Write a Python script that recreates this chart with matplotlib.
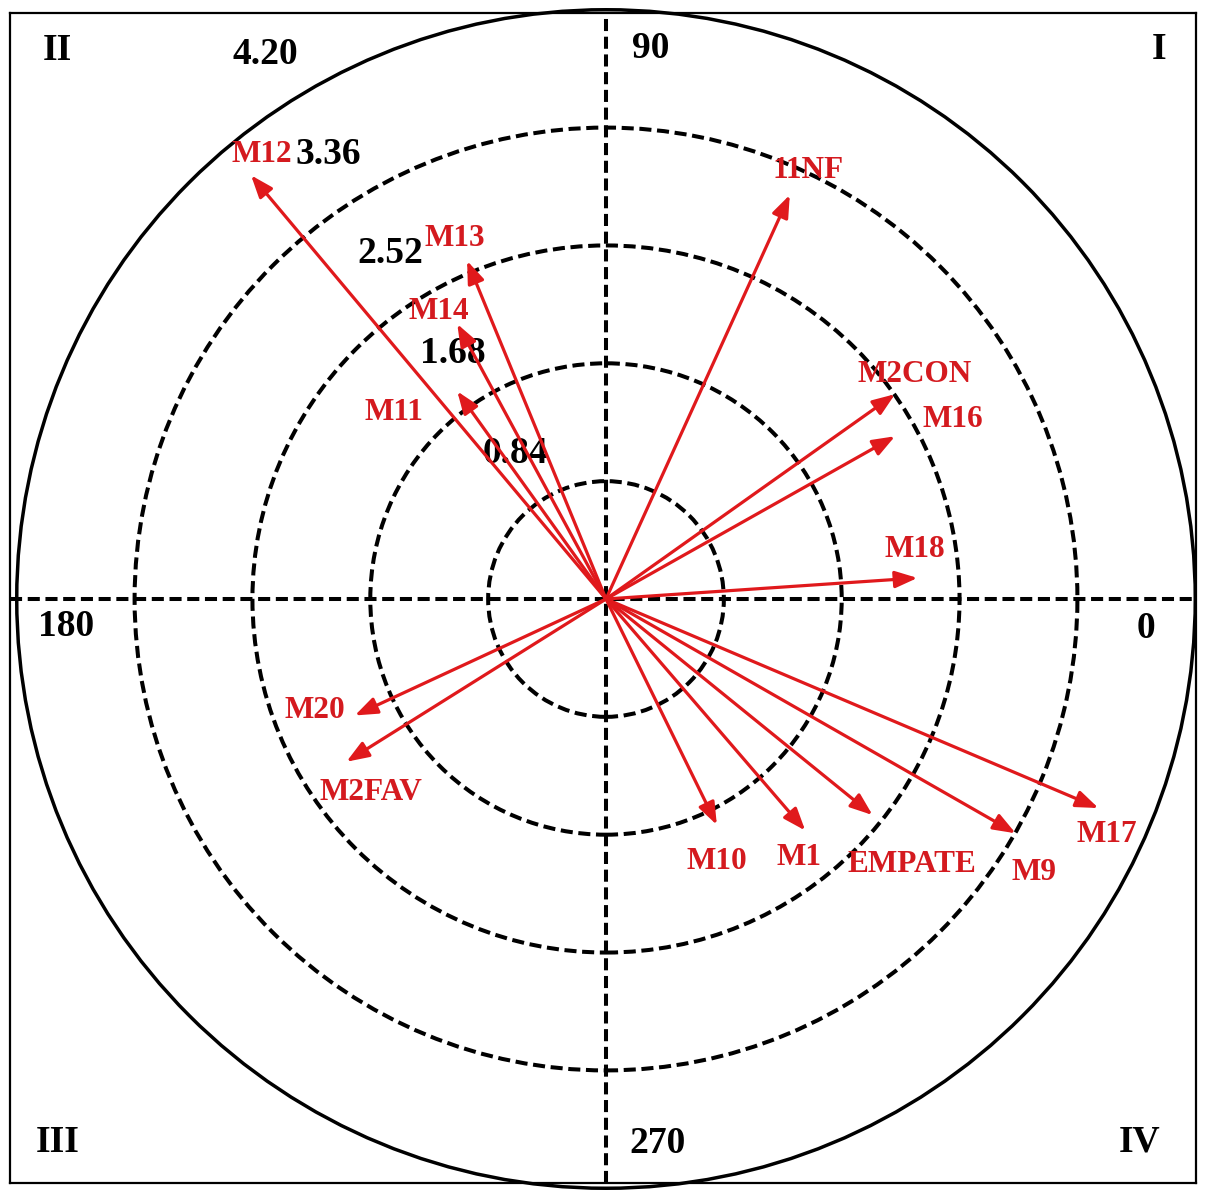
import numpy as np
import matplotlib
matplotlib.use("Agg")
import matplotlib.pyplot as plt
from matplotlib.patches import Circle

plt.rcParams['font.family'] = ['Liberation Serif', 'DejaVu Serif']

# vector end points (x, y)
labels = ['M12', 'M13', 'M14', 'M11', '11NF', 'M2CON', 'M16', 'M18',
          'M17', 'M9', 'EMPATE', 'M1', 'M10', 'M20', 'M2FAV']
x_end = [-2.53, -0.99, -1.06, -1.06, 1.31, 2.06, 2.06, 2.22,
         3.51, 2.92, 1.90, 1.42, 0.79, -1.79, -1.85]
y_end = [3.02, 2.41, 1.96, 1.48, 2.88, 1.46, 1.16, 0.15,
         -1.49, -1.67, -1.54, -1.65, -1.61, -0.83, -1.16]

ring_values = [0.84, 1.68, 2.52, 3.36, 4.20]
ring_labels = ['0.84', '1.68', '2.52', '3.36', '4.20']

quadrants = ['I', 'II', 'III', 'IV']
angle_labels = ['0', '90', '180', '270']

# label offsets from arrow tips, in pixels (right, up)
label_offsets = {
    'M12': (11, 21), 'M13': (-12, 22), 'M14': (-18, 13), 'M11': (-63, -21),
    '11NF': (18, 24), 'M2CON': (20, 20), 'M16': (58, 17), 'M18': (-3, 28),
    'M17': (8, -26), 'M9': (18, -39), 'EMPATE': (39, -49), 'M1': (-6, -27),
    'M10': (0, -37), 'M20': (-40, 5), 'M2FAV': (24, -31),
}

RED = '#e0191c'
TXT_RED = '#d41a1f'

fig = plt.figure(figsize=(12.06, 12.04), dpi=100)
W, H = 1206, 1204
left, top, right, bottom = 10, 13, 1196, 1183
ax = fig.add_axes([left / W, 1 - bottom / H, (right - left) / W, (bottom - top) / H])

cx, cy, ppu = 606, 599, 140.3   # centre in pixels, pixels per unit
ax.set_xlim((left - cx) / ppu, (right - cx) / ppu)
ax.set_ylim((cy - bottom) / ppu, (cy - top) / ppu)

for s in ax.spines.values():
    s.set_linewidth(1.6)
ax.set_xticks([])
ax.set_yticks([])

dash = (0, (3.0, 1.4))
for i, r in enumerate(ring_values):
    if i == len(ring_values) - 1:
        ax.add_patch(Circle((0, 0), r, fill=False, ec='black', lw=2.5, clip_on=False))
    else:
        ax.add_patch(Circle((0, 0), r, fill=False, ec='black', lw=2.9, ls=dash))

ax.axhline(0, color='black', lw=2.9, ls=dash)
ax.axvline(0, color='black', lw=2.9, ls=dash)

# ring value labels along ~122 degrees
ang = np.deg2rad(122)
for r, t in zip(ring_values, ring_labels):
    rr = r + 0.38
    ax.text(rr * np.cos(ang), rr * np.sin(ang), t, fontsize=27, fontweight='bold',
            ha='center', va='center', color='black')

for name, x, y in zip(labels, x_end, y_end):
    ax.annotate('', xy=(x, y), xytext=(0, 0),
                arrowprops=dict(arrowstyle='-|>,head_length=0.45,head_width=0.17',
                                color=RED, lw=2.3, mutation_scale=30,
                                shrinkA=0, shrinkB=0))
    dx, dy = label_offsets[name]
    ax.annotate(name, xy=(x, y), xytext=(dx * 0.72, dy * 0.72), textcoords='offset points',
                ha='center', va='center', fontsize=22.5, fontweight='bold', color=TXT_RED)

quad_pos = {'I': (0.969, 0.969), 'II': (0.040, 0.968), 'III': (0.040, 0.035), 'IV': (0.952, 0.035)}
for q in quadrants:
    ax.text(*quad_pos[q], q, transform=ax.transAxes, fontsize=27, fontweight='bold',
            ha='center', va='center')

ang_pos = {'0': (0.958, 0.474), '90': (0.540, 0.970), '180': (0.047, 0.476), '270': (0.546, 0.034)}
for a in angle_labels:
    ax.text(*ang_pos[a], a, transform=ax.transAxes, fontsize=27, fontweight='bold',
            ha='center', va='center')

fig.savefig('out.png', dpi=100, facecolor='white')
